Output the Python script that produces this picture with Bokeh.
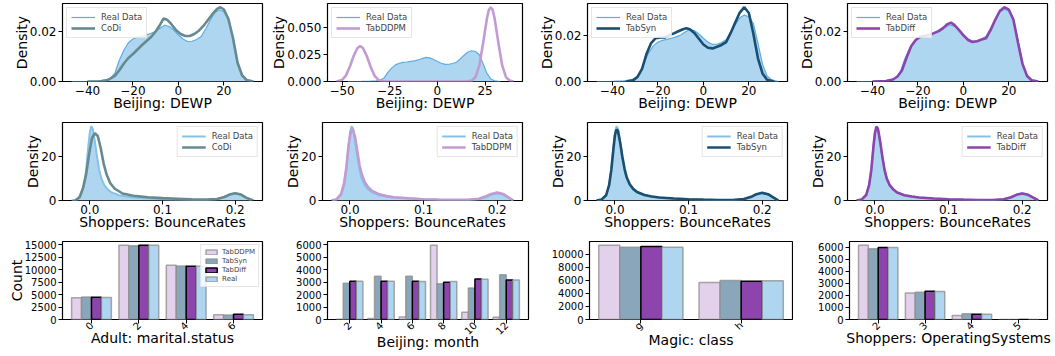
from math import pi
from bokeh.plotting import figure
from bokeh.layouts import column, row
from bokeh.models import (Range1d, FactorRange, FixedTicker, Legend, LegendItem,
                          ColumnDataSource, CustomJSTickFormatter)
from bokeh.transform import dodge
from bokeh.embed import file_html
from bokeh.resources import INLINE

# ---------------- data: Beijing DEWP densities ----------------
dewp_real_x = [-47, -40, -35, -32, -30, -28, -26, -24, -22, -20, -18, -16, -14, -12, -10, -8, -6, -4, -2, 0,
               2, 4, 6, 8, 10, 12, 14, 16, 18, 20, 22, 24, 26, 28, 30, 33]
dewp_real_y = [0, 0.0001, 0.0003, 0.0007, 0.0013, 0.0032, 0.0085, 0.0125, 0.0155, 0.0170, 0.0178, 0.0182,
               0.0187, 0.0193, 0.0201, 0.0214, 0.0225, 0.0220, 0.0205, 0.0187, 0.0170, 0.0160, 0.0161, 0.0168,
               0.0180, 0.0210, 0.0245, 0.0275, 0.0287, 0.0280, 0.0250, 0.0165, 0.0075, 0.0024, 0.0007, 0]

dewp_codi_x = [-40, -34, -31, -28, -26, -24, -22, -20, -18, -16, -14, -12, -10, -8, -6.5, -5, -3, -1, 1, 3, 5,
               7, 9, 11, 13, 15, 17, 18.5, 20, 22, 24, 26, 28, 30, 33]
dewp_codi_y = [0, 0.0001, 0.0006, 0.0022, 0.0045, 0.0072, 0.0094, 0.0110, 0.0128, 0.0146, 0.0162, 0.0178,
               0.0200, 0.0228, 0.0252, 0.0247, 0.0228, 0.0205, 0.0190, 0.0182, 0.0182, 0.0190, 0.0203, 0.0222,
               0.0246, 0.0270, 0.0290, 0.0297, 0.0288, 0.0250, 0.0175, 0.0076, 0.0025, 0.0006, 0]

dewp_tabddpm_x = [-53, -50, -48, -46, -44, -42, -40.5, -39, -37, -35, -33, -31, -28, -15, 0, 15, 18, 20, 22,
                  24, 26, 27, 28, 29, 30, 32, 34, 36, 38, 40]
dewp_tabddpm_y = [0, 0.0015, 0.0055, 0.0135, 0.0235, 0.0310, 0.0331, 0.0310, 0.0235, 0.0135, 0.0055, 0.0015,
                  0, 0, 0, 0, 0.0008, 0.0040, 0.0150, 0.0360, 0.0590, 0.0668, 0.0693, 0.0668, 0.0590, 0.0360,
                  0.0150, 0.0040, 0.0008, 0]

dewp_tabsyn_x = [-34, -31, -29, -27, -25, -23, -21, -19, -17, -15, -13, -11, -9, -7.5, -6, -4, -2, 0, 2, 4,
                 6, 8, 10, 12, 14, 16, 18, 20, 22, 24, 26, 28, 31]
dewp_tabsyn_y = [0, 0.0005, 0.0020, 0.0055, 0.0120, 0.0166, 0.0187, 0.0190, 0.0190, 0.0200, 0.0208, 0.0217,
                 0.0226, 0.0230, 0.0226, 0.0210, 0.0185, 0.0160, 0.0146, 0.0143, 0.0150, 0.0158, 0.0170,
                 0.0210, 0.0255, 0.0298, 0.0321, 0.0296, 0.0205, 0.0100, 0.0035, 0.0008, 0]

dewp_tabdiff_x = [-40, -34, -31, -29, -27, -25, -23, -21, -19, -17, -15, -13, -11, -9, -7, -5.5, -4, -2, 0,
                  2, 4, 6, 8, 10, 12, 14, 16, 18, 20, 22, 24, 26, 28, 30, 33]
dewp_tabdiff_y = [0, 0.0002, 0.0008, 0.0020, 0.0045, 0.0095, 0.0140, 0.0165, 0.0178, 0.0182, 0.0185, 0.0192,
                  0.0200, 0.0212, 0.0228, 0.0234, 0.0225, 0.0205, 0.0183, 0.0165, 0.0157, 0.0160, 0.0167,
                  0.0172, 0.0205, 0.0245, 0.0280, 0.0295, 0.0285, 0.0245, 0.0155, 0.0070, 0.0022, 0.0005, 0]

# ---------------- data: Shoppers BounceRates densities ----------------
br_real_x = [-0.025, -0.018, -0.012, -0.008, -0.005, -0.002, 0.0, 0.002, 0.004, 0.007, 0.01, 0.013, 0.016,
             0.02, 0.025, 0.03, 0.04, 0.05, 0.06, 0.08, 0.1, 0.12, 0.14, 0.16, 0.175, 0.185, 0.192, 0.2,
             0.208, 0.215, 0.222]
br_real_y = [0, 0.5, 2.5, 7, 14, 25, 31, 34, 33, 27, 20, 14, 10, 7, 5, 3.7, 2.4, 1.8, 1.4, 0.9, 0.6, 0.4,
             0.25, 0.25, 0.6, 1.5, 2.6, 3.3, 2.6, 1.3, 0]

br_codi_x = [-0.02, -0.014, -0.009, -0.005, -0.001, 0.003, 0.007, 0.011, 0.015, 0.019, 0.023, 0.028, 0.034,
             0.045, 0.06, 0.08, 0.1, 0.12, 0.14, 0.16, 0.175, 0.185, 0.192, 0.2, 0.208, 0.215, 0.225]
br_codi_y = [0, 1.5, 6, 12, 21, 28.5, 30.8, 29.5, 24, 17, 12, 8, 5.5, 3.2, 2.2, 1.5, 1.1, 0.8, 0.5, 0.4,
             0.7, 1.6, 2.7, 3.3, 2.7, 1.3, 0]

br_tabddpm_x = [-0.025, -0.018, -0.012, -0.008, -0.005, -0.002, 0.001, 0.004, 0.007, 0.01, 0.013, 0.016,
                0.02, 0.025, 0.03, 0.04, 0.05, 0.06, 0.08, 0.1, 0.12, 0.14, 0.16, 0.175, 0.185, 0.192, 0.2,
                0.208, 0.215, 0.222]
br_tabddpm_y = [0, 0.6, 3, 8, 15, 25, 31.5, 32.5, 29, 22.5, 16, 12, 8.5, 6, 4.4, 2.8, 2.0, 1.5, 1.0, 0.6,
                0.4, 0.3, 0.3, 0.8, 2.0, 3.0, 3.6, 3.0, 1.5, 0]

br_tabsyn_x = [-0.025, -0.018, -0.012, -0.008, -0.005, -0.002, 0.0, 0.002, 0.004, 0.007, 0.01, 0.013, 0.016,
               0.02, 0.025, 0.03, 0.04, 0.05, 0.06, 0.08, 0.1, 0.12, 0.14, 0.16, 0.175, 0.185, 0.192, 0.2,
               0.208, 0.215, 0.222]
br_tabsyn_y = [0, 0.5, 2.4, 7, 14, 24, 30, 32.5, 31.8, 26.5, 20, 14.5, 10.5, 7.4, 5.2, 3.9, 2.5, 1.8, 1.4,
               0.9, 0.6, 0.4, 0.25, 0.25, 0.7, 1.7, 2.9, 3.5, 2.9, 1.4, 0]

br_tabdiff_x = [-0.025, -0.018, -0.012, -0.008, -0.005, -0.002, 0.0, 0.002, 0.004, 0.007, 0.01, 0.013, 0.016,
                0.02, 0.025, 0.03, 0.04, 0.05, 0.06, 0.08, 0.1, 0.12, 0.14, 0.16, 0.175, 0.185, 0.192, 0.2,
                0.208, 0.215, 0.222]
br_tabdiff_y = [0, 0.5, 2.5, 7, 14, 25, 31, 33.8, 32.8, 27, 20, 14, 10, 7, 5, 3.7, 2.4, 1.8, 1.4, 0.9, 0.6,
                0.4, 0.25, 0.25, 0.6, 1.5, 2.6, 3.2, 2.6, 1.3, 0]

# ---------------- data: category counts ----------------
bar_models = ["TabDDPM", "TabSyn", "TabDiff", "Real"]

adult_cats = ["0", "2", "4", "6"]
adult_tabddpm = [4400, 14950, 10900, 950]
adult_tabsyn = [4550, 14850, 10750, 900]
adult_tabdiff = [4500, 14950, 10700, 1050]
adult_real = [4450, 14950, 10700, 950]
adult_yticks = [0, 2500, 5000, 7500, 10000, 12500, 15000]

month_cats = ["2", "4", "6", "8", "10", "12"]
month_tabddpm = [30, 90, 210, 5975, 575, 180]
month_tabsyn = [2920, 3470, 3470, 2870, 2530, 3600]
month_tabdiff = [3080, 3080, 3080, 3000, 3260, 3180]
month_real = [3080, 3080, 3060, 3050, 3235, 3180]
month_yticks = [0, 1000, 2000, 3000, 4000, 5000, 6000]

magic_cats = ["g", "h"]
magic_tabddpm = [11400, 5680]
magic_tabsyn = [11100, 5980]
magic_tabdiff = [11200, 5880]
magic_real = [11100, 5930]
magic_yticks = [0, 2000, 4000, 6000, 8000, 10000]

os_cats = ["2", "3", "4", "5"]
os_tabddpm = [6160, 2206, 323, 8]
os_tabsyn = [5865, 2260, 484, 10]
os_tabdiff = [5970, 2340, 430, 10]
os_real = [5970, 2314, 430, 10]
os_yticks = [0, 1000, 2000, 3000, 4000, 5000, 6000]

dewp_xticks = [-40, -20, 0, 20]
dewp_xticks_ddpm = [-50, -25, 0, 25]
dewp_yticks = [0, 0.02]
dewp_yticks_ddpm = [0, 0.025, 0.05]
br_xticks = [0, 0.1, 0.2]
br_yticks = [0, 20]

# ---------------- styling ----------------
FONT = "DejaVu Sans"
MODEL_COLORS = {"CoDi": "#678a8e", "TabDDPM": "#c39bd3", "TabSyn": "#1b4f72", "TabDiff": "#8e44ad"}
REAL_LINE = "#5dade2"
REAL_FILL = "#aed6f1"
BAR_FILL = {"TabDDPM": "#e3d0ea", "TabSyn": "#8aa6bb", "TabDiff": "#8e44ad", "Real": "#aed6f1"}
BAR_EDGE = {"TabDDPM": "#8c8c8c", "TabSyn": "#8c8c8c", "TabDiff": "#000000", "Real": "#8c8c8c"}

COL_W = [268, 262, 263, 260]
ROW_L = [[62, 54, 57, 54], [62, 54, 57, 54], [62, 59, 59, 56]]
ROW_R = [[6, 8, 6, 6], [6, 8, 6, 6], [6, 2, 1, 6]]
ROW_H = [120, 119, 116]
ROW_T = [3, 2, 2]
ROW_B = [39, 39, 36]
XLABEL_STANDOFF = [-3, -3, -7]


def fmt(dec):
    return CustomJSTickFormatter(args=dict(d=dec),
                                 code="return (tick < 0 ? '\u2212' : '') + Math.abs(tick).toFixed(d);")


def base_fig(ci, ri, xr, yr, tick_size="12px"):
    p = figure(width=COL_W[ci], height=ROW_H[ri], x_range=xr, y_range=yr,
               output_backend="svg", toolbar_location=None,
               min_border_left=ROW_L[ri][ci], min_border_right=ROW_R[ri][ci],
               min_border_top=ROW_T[ri], min_border_bottom=ROW_B[ri])
    p.grid.visible = False
    p.outline_line_color = "black"
    p.outline_line_width = 1.2
    p.outline_line_alpha = 1
    p.background_fill_color = "white"
    p.border_fill_color = "white"
    for ax in (p.xaxis[0], p.yaxis[0]):
        ax.axis_line_color = None
        ax.major_tick_line_color = "black"
        ax.major_tick_out = 4
        ax.major_tick_in = 0
        ax.minor_tick_line_color = None
        ax.major_label_text_font = FONT
        ax.major_label_text_font_size = tick_size
        ax.major_label_text_color = "black"
        ax.axis_label_text_font = FONT
        ax.axis_label_text_font_size = "14px"
        ax.axis_label_text_font_style = "normal"
        ax.axis_label_text_color = "black"
    p.xaxis.major_label_standoff = 0
    p.xaxis.axis_label_standoff = XLABEL_STANDOFF[ri]
    p.yaxis.major_label_standoff = 2
    p.yaxis.axis_label_standoff = -3
    return p


def style_legend(lg, size, gw, gh, lh):
    lg.label_text_font = FONT
    lg.label_text_font_size = size
    lg.glyph_width = gw
    lg.glyph_height = gh
    lg.label_height = lh
    lg.label_standoff = 6
    lg.spacing = 1
    lg.padding = 4
    lg.margin = 4
    lg.border_line_color = "#cccccc"
    lg.border_line_width = 1
    lg.background_fill_alpha = 0.85


def density_panel(ci, ri, rx, ry, mx, my, name, xticks, xdec, yticks, ydec, xlabel, loc, real_w, real_c):
    allx = rx + mx
    lo, hi = min(allx), max(allx)
    m = 0.05 * (hi - lo)
    ymax = max(max(ry), max(my)) * 1.05
    p = base_fig(ci, ri, Range1d(lo - m, hi + m), Range1d(0, ymax))
    p.varea(x=rx, y1=0, y2=ry, fill_color=REAL_FILL, fill_alpha=1.0)
    real_r = p.line(rx, ry, line_color=real_c, line_width=real_w)
    mod_r = p.line(mx, my, line_color=MODEL_COLORS[name], line_width=2.6)
    p.xaxis.ticker = FixedTicker(ticks=xticks)
    p.xaxis.formatter = fmt(xdec)
    p.yaxis.ticker = FixedTicker(ticks=yticks)
    p.yaxis.formatter = fmt(ydec)
    p.xaxis.axis_label = xlabel
    p.yaxis.axis_label = "Density"
    lg = Legend(items=[LegendItem(label="Real Data", renderers=[real_r]),
                       LegendItem(label=name, renderers=[mod_r])], location=loc)
    style_legend(lg, "8.5px", 24, 10, 10)
    p.add_layout(lg, "center")
    return p


def bar_panel(ci, cats, vals, yticks, xlabel, ylabel, legend):
    n = len(cats)
    pad = 2 * (0.05 * (n - 1 + 0.84) - 0.08) / n
    xr = FactorRange(factors=cats, range_padding=pad)
    ymax = max(max(v) for v in vals.values()) * 1.05
    p = base_fig(ci, 2, xr, Range1d(0, ymax), tick_size="10px")
    src = ColumnDataSource(dict(cat=cats, **vals))
    offsets = [-0.315, -0.105, 0.105, 0.315]
    items = []
    for mname, off in zip(bar_models, offsets):
        r = p.vbar(x=dodge("cat", off, range=xr), top=mname, width=0.21, source=src,
                   fill_color=BAR_FILL[mname], line_color=BAR_EDGE[mname],
                   line_alpha=0.75 if mname != "TabDiff" else 1.0, line_width=1.5)
        items.append(LegendItem(label=mname, renderers=[r]))
    p.yaxis.ticker = FixedTicker(ticks=yticks)
    p.yaxis.formatter = fmt(0)
    p.xaxis.major_label_orientation = pi / 4
    p.xaxis.axis_label = xlabel
    if ylabel:
        p.yaxis.axis_label = ylabel
    if legend:
        lg = Legend(items=items, location="top_right")
        style_legend(lg, "7px", 14, 6, 8)
        lg.label_standoff = 4
        lg.padding = 3
        lg.margin = 3
        p.add_layout(lg, "center")
    return p


row1 = []
for ci, (name, mx, my) in enumerate([("CoDi", dewp_codi_x, dewp_codi_y),
                                      ("TabDDPM", dewp_tabddpm_x, dewp_tabddpm_y),
                                      ("TabSyn", dewp_tabsyn_x, dewp_tabsyn_y),
                                      ("TabDiff", dewp_tabdiff_x, dewp_tabdiff_y)]):
    ddpm = name == "TabDDPM"
    row1.append(density_panel(ci, 0, dewp_real_x, dewp_real_y, mx, my, name,
                              dewp_xticks_ddpm if ddpm else dewp_xticks, 0,
                              dewp_yticks_ddpm if ddpm else dewp_yticks, 3 if ddpm else 2,
                              "Beijing: DEWP", "top_left", 1.2, REAL_LINE))

row2 = []
for ci, (name, mx, my) in enumerate([("CoDi", br_codi_x, br_codi_y),
                                      ("TabDDPM", br_tabddpm_x, br_tabddpm_y),
                                      ("TabSyn", br_tabsyn_x, br_tabsyn_y),
                                      ("TabDiff", br_tabdiff_x, br_tabdiff_y)]):
    row2.append(density_panel(ci, 1, br_real_x, br_real_y, mx, my, name, br_xticks, 1, br_yticks, 0,
                              "Shoppers: BounceRates", "top_right", 2.0, "#85c1e9"))

row3 = [
    bar_panel(0, adult_cats, dict(TabDDPM=adult_tabddpm, TabSyn=adult_tabsyn, TabDiff=adult_tabdiff, Real=adult_real),
              adult_yticks, "Adult: marital.status", "Count", True),
    bar_panel(1, month_cats, dict(TabDDPM=month_tabddpm, TabSyn=month_tabsyn, TabDiff=month_tabdiff, Real=month_real),
              month_yticks, "Beijing: month", None, False),
    bar_panel(2, magic_cats, dict(TabDDPM=magic_tabddpm, TabSyn=magic_tabsyn, TabDiff=magic_tabdiff, Real=magic_real),
              magic_yticks, "Magic: class", None, False),
    bar_panel(3, os_cats, dict(TabDDPM=os_tabddpm, TabSyn=os_tabsyn, TabDiff=os_tabdiff, Real=os_real),
              os_yticks, "Shoppers: OperatingSystems", None, False),
]

layout = column(row(*row1, spacing=0), row(*row2, spacing=0), row(*row3, spacing=0), spacing=0)
open("out.html", "w").write(file_html(layout, INLINE))
